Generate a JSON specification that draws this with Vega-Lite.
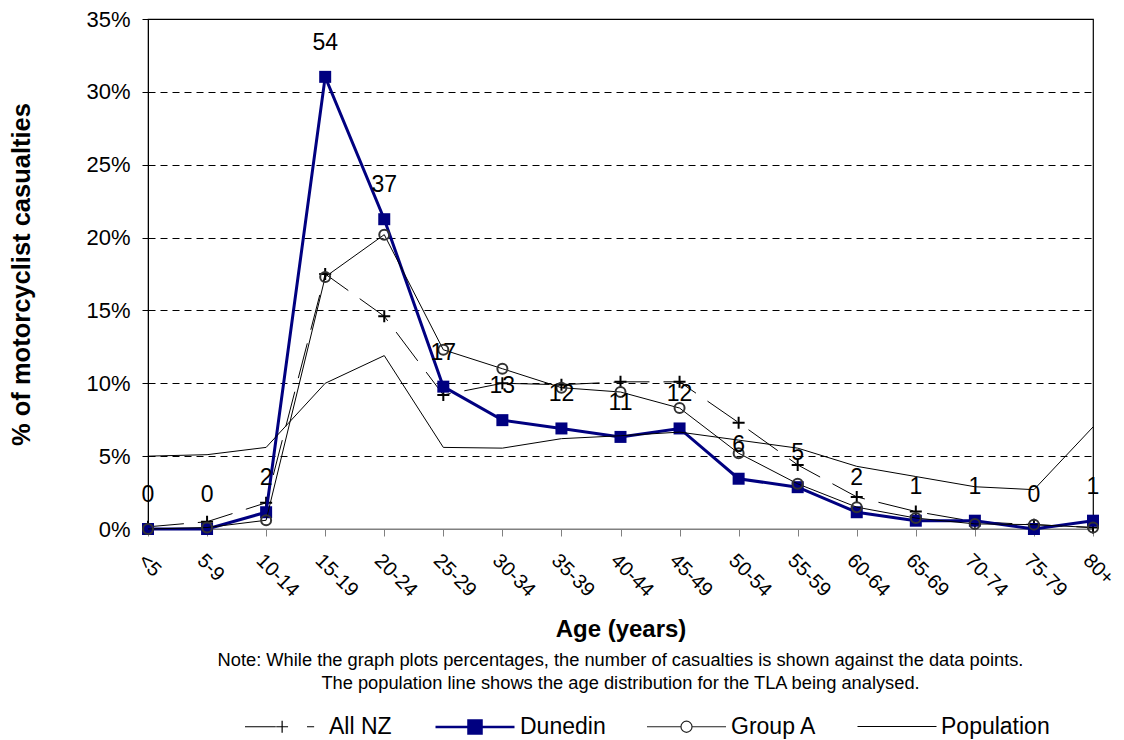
{
  "$schema": "https://vega.github.io/schema/vega-lite/v6.json",
  "width": 945,
  "height": 510,
  "autosize": {"type": "none"},
  "padding": {"left": 148, "top": 19, "right": 31, "bottom": 211},
  "background": "white",
  "config": {
    "font": "Liberation Sans",
    "view": {"stroke": "black", "strokeWidth": 1.2},
    "axis": {"labelFont": "Liberation Sans", "titleFont": "Liberation Sans"},
    "legend": {"labelFont": "Liberation Sans"}
  },
  "title": {
    "text": [
      "Note: While the graph plots percentages, the number of casualties is shown against the  data points.",
      "The population line shows the age distribution for the TLA being analysed."
    ],
    "orient": "bottom",
    "anchor": "middle",
    "fontSize": 18.3,
    "fontWeight": "normal",
    "lineHeight": 23,
    "color": "black",
    "offset": 8,
    "dy": -95
  },
  "data": {
    "values": [
      {"age": "<5", "s": "All NZ", "v": 0.0015},
      {"age": "5-9", "s": "All NZ", "v": 0.005},
      {"age": "10-14", "s": "All NZ", "v": 0.018},
      {"age": "15-19", "s": "All NZ", "v": 0.175},
      {"age": "20-24", "s": "All NZ", "v": 0.146},
      {"age": "25-29", "s": "All NZ", "v": 0.092},
      {"age": "30-34", "s": "All NZ", "v": 0.100},
      {"age": "35-39", "s": "All NZ", "v": 0.099},
      {"age": "40-44", "s": "All NZ", "v": 0.101},
      {"age": "45-49", "s": "All NZ", "v": 0.101},
      {"age": "50-54", "s": "All NZ", "v": 0.073},
      {"age": "55-59", "s": "All NZ", "v": 0.044},
      {"age": "60-64", "s": "All NZ", "v": 0.022},
      {"age": "65-69", "s": "All NZ", "v": 0.012},
      {"age": "70-74", "s": "All NZ", "v": 0.005},
      {"age": "75-79", "s": "All NZ", "v": 0.003},
      {"age": "80+", "s": "All NZ", "v": 0.001},

      {"age": "<5", "s": "Dunedin", "v": 0, "n": 0},
      {"age": "5-9", "s": "Dunedin", "v": 0, "n": 0},
      {"age": "10-14", "s": "Dunedin", "v": 0.0115, "n": 2},
      {"age": "15-19", "s": "Dunedin", "v": 0.3103, "n": 54},
      {"age": "20-24", "s": "Dunedin", "v": 0.2126, "n": 37},
      {"age": "25-29", "s": "Dunedin", "v": 0.0977, "n": 17},
      {"age": "30-34", "s": "Dunedin", "v": 0.0747, "n": 13},
      {"age": "35-39", "s": "Dunedin", "v": 0.0690, "n": 12},
      {"age": "40-44", "s": "Dunedin", "v": 0.0632, "n": 11},
      {"age": "45-49", "s": "Dunedin", "v": 0.0690, "n": 12},
      {"age": "50-54", "s": "Dunedin", "v": 0.0345, "n": 6},
      {"age": "55-59", "s": "Dunedin", "v": 0.0287, "n": 5},
      {"age": "60-64", "s": "Dunedin", "v": 0.0115, "n": 2},
      {"age": "65-69", "s": "Dunedin", "v": 0.0057, "n": 1},
      {"age": "70-74", "s": "Dunedin", "v": 0.0057, "n": 1},
      {"age": "75-79", "s": "Dunedin", "v": 0, "n": 0},
      {"age": "80+", "s": "Dunedin", "v": 0.0057, "n": 1},

      {"age": "<5", "s": "Group A", "v": 0},
      {"age": "5-9", "s": "Group A", "v": 0.001},
      {"age": "10-14", "s": "Group A", "v": 0.006},
      {"age": "15-19", "s": "Group A", "v": 0.173},
      {"age": "20-24", "s": "Group A", "v": 0.202},
      {"age": "25-29", "s": "Group A", "v": 0.123},
      {"age": "30-34", "s": "Group A", "v": 0.110},
      {"age": "35-39", "s": "Group A", "v": 0.097},
      {"age": "40-44", "s": "Group A", "v": 0.094},
      {"age": "45-49", "s": "Group A", "v": 0.083},
      {"age": "50-54", "s": "Group A", "v": 0.052},
      {"age": "55-59", "s": "Group A", "v": 0.031},
      {"age": "60-64", "s": "Group A", "v": 0.015},
      {"age": "65-69", "s": "Group A", "v": 0.0075},
      {"age": "70-74", "s": "Group A", "v": 0.0035},
      {"age": "75-79", "s": "Group A", "v": 0.003},
      {"age": "80+", "s": "Group A", "v": 0.001},

      {"age": "<5", "s": "Population", "v": 0.050},
      {"age": "5-9", "s": "Population", "v": 0.051},
      {"age": "10-14", "s": "Population", "v": 0.056},
      {"age": "15-19", "s": "Population", "v": 0.100},
      {"age": "20-24", "s": "Population", "v": 0.119},
      {"age": "25-29", "s": "Population", "v": 0.056},
      {"age": "30-34", "s": "Population", "v": 0.0555},
      {"age": "35-39", "s": "Population", "v": 0.062},
      {"age": "40-44", "s": "Population", "v": 0.064},
      {"age": "45-49", "s": "Population", "v": 0.0665},
      {"age": "50-54", "s": "Population", "v": 0.061},
      {"age": "55-59", "s": "Population", "v": 0.0555},
      {"age": "60-64", "s": "Population", "v": 0.043},
      {"age": "65-69", "s": "Population", "v": 0.036},
      {"age": "70-74", "s": "Population", "v": 0.029},
      {"age": "75-79", "s": "Population", "v": 0.027},
      {"age": "80+", "s": "Population", "v": 0.070}
    ]
  },
  "encoding": {
    "x": {
      "field": "age",
      "type": "ordinal",
      "sort": ["<5","5-9","10-14","15-19","20-24","25-29","30-34","35-39","40-44","45-49","50-54","55-59","60-64","65-69","70-74","75-79","80+"],
      "scale": {"type": "point", "padding": 0},
      "axis": {
        "title": "Age (years)",
        "titleFontSize": 24,
        "titleFontWeight": "bold",
        "titleColor": "black",
        "titlePadding": 17,
        "labelAngle": 45,
        "labelAlign": "left",
        "labelBaseline": "top",
        "labelFontSize": 20,
        "labelColor": "black",
        "labelPadding": 14,
        "tickSize": 7,
        "tickColor": "#808080",
        "domainColor": "#808080",
        "grid": false
      }
    },
    "y": {
      "field": "v",
      "type": "quantitative",
      "scale": {"domain": [0, 0.35], "nice": false},
      "axis": {
        "title": "% of motorcyclist casualties",
        "titleFontSize": 25.5,
        "titleFontWeight": "bold",
        "titleColor": "black",
        "titlePadding": 51,
        "format": ".0%",
        "values": [0, 0.05, 0.1, 0.15, 0.2, 0.25, 0.3, 0.35],
        "labelFontSize": 22,
        "labelColor": "black",
        "labelPadding": 12,
        "tickSize": 6,
        "tickColor": "black",
        "domainColor": "black",
        "grid": true,
        "gridColor": "black",
        "gridDash": [7, 5],
        "gridOpacity": 1
      }
    }
  },
  "layer": [
    {
      "transform": [{"filter": "datum.s == 'All NZ'"}],
      "mark": {"type": "line", "color": "black", "strokeWidth": 1, "strokeDash": [36, 14]},
      "encoding": {}
    },
    {
      "transform": [{"filter": "datum.s == 'All NZ'"}],
      "mark": {"type": "point", "shape": "M-1,0H1M0,-1V1", "filled": false, "color": "black", "strokeWidth": 2, "size": 144, "opacity": 1},
      "encoding": {}
    },
    {
      "transform": [{"filter": "datum.s == 'Dunedin'"}],
      "mark": {"type": "line", "color": "#000080", "strokeWidth": 3},
      "encoding": {}
    },
    {
      "transform": [{"filter": "datum.s == 'Dunedin'"}],
      "mark": {"type": "point", "shape": "square", "filled": true, "color": "#000080", "size": 144, "opacity": 1},
      "encoding": {}
    },
    {
      "transform": [{"filter": "datum.s == 'Group A'"}],
      "mark": {"type": "line", "color": "black", "strokeWidth": 1},
      "encoding": {}
    },
    {
      "transform": [{"filter": "datum.s == 'Group A'"}],
      "mark": {"type": "point", "shape": "circle", "filled": false, "color": "#333333", "strokeWidth": 2, "size": 100, "opacity": 1},
      "encoding": {}
    },
    {
      "transform": [{"filter": "datum.s == 'Population'"}],
      "mark": {"type": "line", "color": "black", "strokeWidth": 1},
      "encoding": {}
    },
    {
      "transform": [{"filter": "datum.s == 'Dunedin'"}],
      "mark": {"type": "text", "fontSize": 23, "color": "black", "dy": -34, "baseline": "middle", "align": "center"},
      "encoding": {"text": {"field": "n", "type": "quantitative"}}
    },
    {
      "transform": [{"filter": "datum.s == 'none'"}],
      "mark": {"type": "point", "opacity": 1},
      "encoding": {
        "shape": {
          "field": "s", "type": "nominal",
          "scale": {
            "domain": ["All NZ", "Dunedin", "Group A", "Population"],
            "range": [
              "M-1,0H-0.22M-0.21,0H0.09M-0.06,-0.15V0.15M0.57,0H0.75",
              "M-1,0H1M-0.165,-0.165H0.165V0.165H-0.165Z",
              "M-1,0H-0.14M0.14,0H1M0.14,0A0.14,0.14 0 1,1 -0.14,0A0.14,0.14 0 1,1 0.14,0Z",
              "M-1,0H1"
            ]
          },
          "legend": {
            "title": null,
            "orient": "none",
            "legendX": 96,
            "legendY": 667,
            "direction": "horizontal",
            "symbolSize": 6241,
            "labelFontSize": 23,
            "labelColor": "black",
            "labelOffset": 4,
            "columnPadding": 38
          }
        },
        "stroke": {
          "field": "s", "type": "nominal",
          "scale": {"domain": ["All NZ", "Dunedin", "Group A", "Population"], "range": ["black", "#000080", "#222222", "black"]},
          "legend": {"title": null, "orient": "none", "legendX": 96, "legendY": 667, "direction": "horizontal", "symbolSize": 6241, "labelFontSize": 23, "labelColor": "black", "labelOffset": 4, "columnPadding": 38}
        },
        "fill": {
          "field": "s", "type": "nominal",
          "scale": {"domain": ["All NZ", "Dunedin", "Group A", "Population"], "range": ["transparent", "#000080", "transparent", "transparent"]},
          "legend": {"title": null, "orient": "none", "legendX": 96, "legendY": 667, "direction": "horizontal", "symbolSize": 6241, "labelFontSize": 23, "labelColor": "black", "labelOffset": 4, "columnPadding": 38}
        },
        "strokeWidth": {
          "field": "s", "type": "nominal",
          "scale": {"type": "ordinal", "domain": ["All NZ", "Dunedin", "Group A", "Population"], "range": [1.2, 2.5, 1.2, 1]},
          "legend": {"title": null, "orient": "none", "legendX": 96, "legendY": 667, "direction": "horizontal", "symbolSize": 6241, "labelFontSize": 23, "labelColor": "black", "labelOffset": 4, "columnPadding": 38}
        }
      }
    }
  ]
}
